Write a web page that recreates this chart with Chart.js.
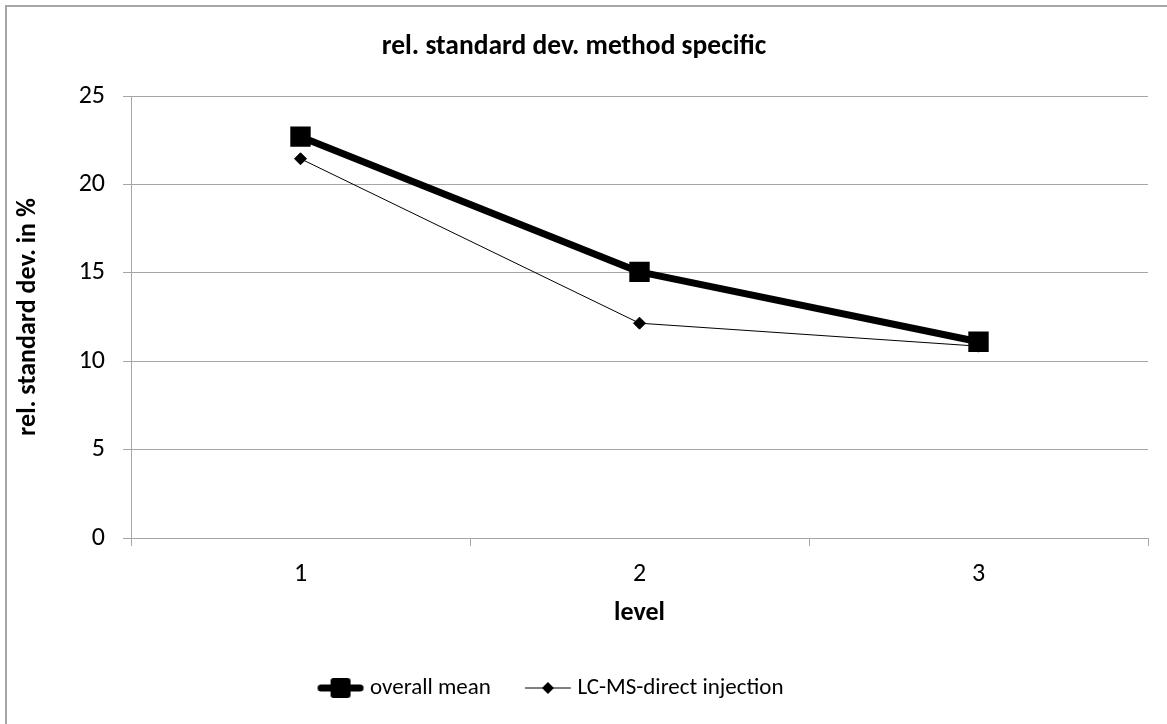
<!DOCTYPE html>
<html>
<head>
<meta charset="utf-8">
<script src="https://cdn.jsdelivr.net/npm/chart.js@4"></script>
<style>
  html, body { margin: 0; padding: 0; background: #fff; overflow: hidden; }
  #frame { position: absolute; left: 5px; top: 5px; width: 1300px; height: 900px; border: 2px solid #a6a6a6; }
  #wrap { position: absolute; left: 0; top: 0; width: 1167px; height: 724px; }
</style>
</head>
<body>
<div id="frame"></div>
<div id="wrap"><canvas id="chart" width="1167" height="724"></canvas></div>
<script>
// rel. standard deviation per level
const levels = ['1', '2', '3'];
const overallMean = [22.7, 15.05, 11.1];
const lcmsDirect = [21.45, 12.15, 10.85];
const seriesNames = ['overall mean', 'LC-MS-direct injection'];

const FONT = 'Carlito, Lato, sans-serif';
const GRID = '#a6a6a6';

// legend sample: line with marker, drawn on a small canvas
function legendIcon(lineW, marker) {
  const c = document.createElement('canvas');
  c.width = 48; c.height = 24;
  const g = c.getContext('2d');
  g.strokeStyle = '#000';
  g.fillStyle = '#000';
  g.lineWidth = lineW;
  g.lineCap = 'round';
  g.beginPath();
  g.moveTo(lineW / 2 + 1, 12);
  g.lineTo(47 - lineW / 2, 12);
  g.stroke();
  if (marker === 'square') {
    g.beginPath();
    g.roundRect(14, 2, 20, 20, 3);
    g.fill();
  } else {
    g.beginPath();
    g.moveTo(24, 6); g.lineTo(30, 12); g.lineTo(24, 18); g.lineTo(18, 12);
    g.closePath();
    g.fill();
  }
  return c;
}
const icons = [legendIcon(7, 'square'), legendIcon(1, 'diamond')];

// the legend sits a little left of centre in the original
const legendShift = {
  id: 'legendShift',
  afterLayout(chart) {
    chart.legend.right -= 42;
    chart.legend.width -= 42;
  }
};

new Chart(document.getElementById('chart'), {
  type: 'line',
  data: {
    labels: levels,
    datasets: [{
      label: seriesNames[0],
      data: overallMean,
      borderColor: '#000',
      backgroundColor: '#000',
      borderWidth: 7,
      pointStyle: 'rect',
      pointRadius: 13,
      pointBorderWidth: 2,
      pointBorderColor: '#000',
      borderJoinStyle: 'round',
      order: 1
    }, {
      label: seriesNames[1],
      data: lcmsDirect,
      borderColor: '#000',
      backgroundColor: '#000',
      borderWidth: 1,
      pointStyle: 'rectRot',
      pointRadius: 6,
      pointBorderWidth: 1,
      order: 2
    }]
  },
  plugins: [legendShift],
  options: {
    responsive: false,
    animation: false,
    layout: { padding: { left: 0, right: 19, top: 0, bottom: 14.5 } },
    plugins: {
      title: {
        display: true,
        text: 'rel. standard dev. method specific',
        color: '#000',
        font: { family: FONT, size: 27.5, weight: 'bold', lineHeight: 1.2 },
        padding: { top: 30.5, bottom: 32.5 }
      },
      legend: {
        position: 'bottom',
        labels: {
          color: '#000',
          font: { family: FONT, size: 23 },
          usePointStyle: true,
          pointStyleWidth: 36,
          padding: 39,
          generateLabels: chart => chart.data.datasets.map((ds, i) => ({
            text: ds.label,
            pointStyle: icons[i],
            fillStyle: '#000',
            strokeStyle: '#000',
            lineWidth: 0,
            hidden: false,
            datasetIndex: i
          }))
        }
      },
      tooltip: { enabled: false }
    },
    scales: {
      x: {
        type: 'category',
        offset: true,
        afterFit: s => { s.height = 99.5; },
        grid: { display: true, drawOnChartArea: false, drawTicks: true, tickLength: 8, color: GRID, offset: true },
        border: { display: true, color: GRID, width: 1 },
        ticks: { color: '#000', padding: 13, font: { family: FONT, size: 26 } },
        title: {
          display: true,
          text: 'level',
          color: '#000',
          font: { family: FONT, size: 26, weight: 'bold', lineHeight: 1.2 },
          padding: { top: 8.9, bottom: 8.9 }
        }
      },
      y: {
        min: 0,
        max: 25,
        afterFit: s => { s.width = 131; },
        grid: { color: GRID, tickLength: 8, lineWidth: 1 },
        border: { display: true, color: GRID, width: 1 },
        ticks: { stepSize: 5, color: '#000', padding: 18, font: { family: FONT, size: 26 } },
        title: {
          display: true,
          text: 'rel. standard dev. in %',
          color: '#000',
          font: { family: FONT, size: 26, weight: 'bold', lineHeight: 1.2 },
          padding: { top: 12.4, bottom: 12.4 }
        }
      }
    }
  }
});
</script>
</body>
</html>
